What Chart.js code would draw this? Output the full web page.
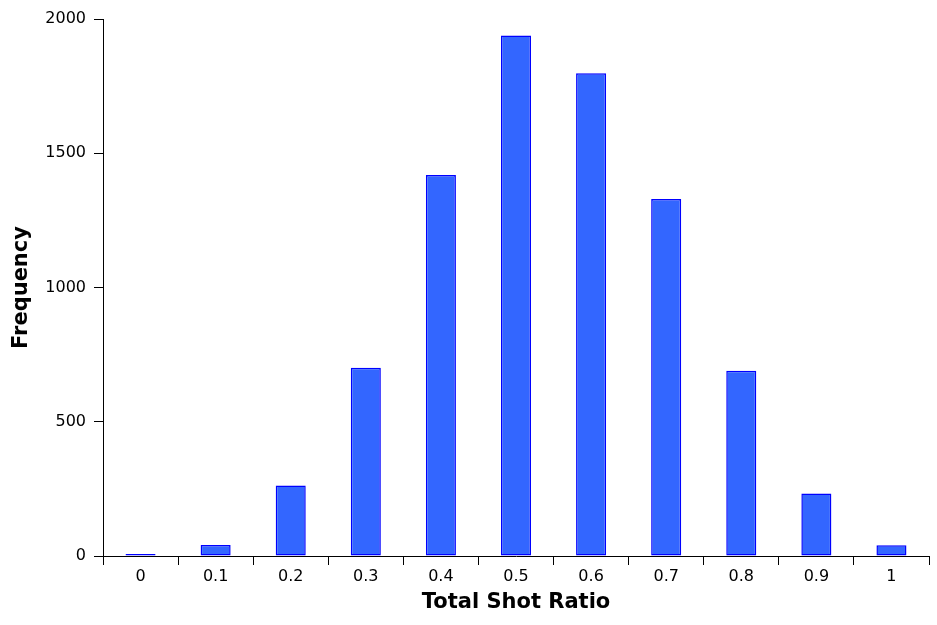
<!DOCTYPE html>
<html>
<head>
<meta charset="utf-8">
<script src="https://cdn.jsdelivr.net/npm/chart.js@4/dist/chart.umd.min.js"></script>
<style>
  html, body { margin:0; padding:0; background:#fff; }
  #wrap { width:937px; height:625px; position:relative; }
</style>
</head>
<body>
<div id="wrap"><canvas id="histChart"></canvas></div>
<script>
const ratioLabels = ['0', '0.1', '0.2', '0.3', '0.4', '0.5', '0.6', '0.7', '0.8', '0.9', '1'];
const frequencies = [7, 41, 263, 701, 1419, 1939, 1798, 1330, 690, 233, 40];
const yTicks      = [0, 500, 1000, 1500, 2000];

const FONT = 'DejaVu Sans';
const AXIS = '#000000';

new Chart(document.getElementById('histChart').getContext('2d'), {
  type: 'bar',
  data: {
    labels: ratioLabels,
    datasets: [{
      label: 'Frequency',
      data: frequencies,
      backgroundColor: '#3366ff',
      borderColor: '#0000ff',
      borderWidth: 1.5,
      borderSkipped: false,
      barPercentage: 0.4,
      categoryPercentage: 1.0,
    }]
  },
  options: {
    responsive: true, maintainAspectRatio: false,
    animation: false,
    layout: { padding: { top: 19, right: 8, bottom: 0, left: 0 } },
    plugins: { legend: { display: false }, tooltip: { enabled: false } },
    scales: {
      x: {
        offset: true,
        grid: { offset: true, drawOnChartArea: false, drawTicks: true, tickLength: 9, color: AXIS, lineWidth: 1 },
        border: { color: AXIS, width: 1 },
        ticks: { color: '#000', padding: 2, font: { family: FONT, size: 16 }, maxRotation: 0 },
        title: { display: true, text: 'Total Shot Ratio', color: '#000',
                 font: { family: FONT, size: 21, weight: 'bold' }, padding: { top: 0, bottom: 10 } },
        afterFit: s => { s.height = 69; },
      },
      y: {
        min: 0, max: 2000,
        afterBuildTicks: s => { s.ticks = yTicks.map(v => ({ value: v })); },
        grid: { drawOnChartArea: false, drawTicks: true, tickLength: 9, color: AXIS, lineWidth: 1 },
        border: { color: AXIS, width: 1 },
        ticks: { color: '#000', padding: 8, font: { family: FONT, size: 16 }, callback: v => String(v) },
        title: { display: true, text: 'Frequency', color: '#000',
                 font: { family: FONT, size: 21, weight: 'bold' }, padding: { top: 9, bottom: 0 } },
        afterFit: s => { s.width = 103; },
      }
    }
  }
});
</script>
</body>
</html>
